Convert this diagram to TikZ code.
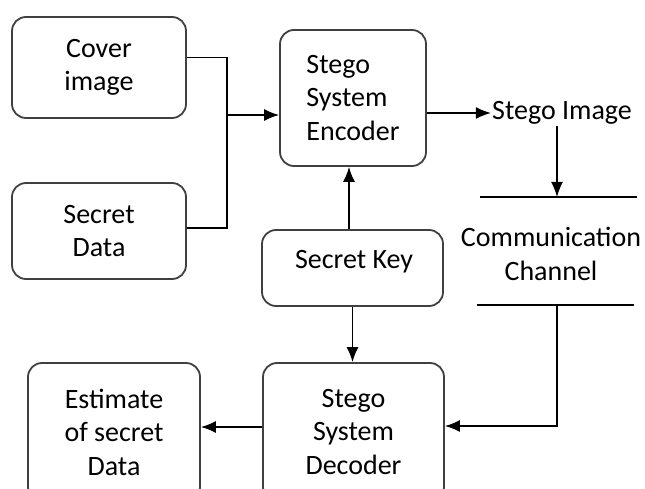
\documentclass[tikz,border=0pt]{standalone}
\usepackage{fontspec}
\setmainfont{Carlito}
\usepackage{tikz}
\usetikzlibrary{calc}
\usetikzlibrary{arrows.meta}
\usetikzlibrary{positioning}

\begin{document}
\begin{tikzpicture}[x=1pt, y=-1pt, box/.style={draw=black!75, line width=1.8pt, rounded corners=14pt, align=center, inner sep=0pt}]
    \tikzset{txt/.style={align=center, inner sep=1pt}}
    \tikzset{link/.style={line width=1.5pt}, tip/.style={-{Latex[length=15pt, width=12pt]}}}
    \fontsize{28}{33.5}\selectfont
    \useasboundingbox (0,0) rectangle (645,489);
    \clip (0,0) rectangle (645,489);
    %inputs
    \node[box, minimum width=174pt, minimum height=101pt] (cover) at (99,67.5) {Cover\\image};
    \node[box, minimum width=174pt, minimum height=96pt] (secret) at (99,231) {Secret\\Data};
    \node[box, minimum width=146pt, minimum height=136pt, align=left] (enc) at (353,98) {Stego\\System\\Encoder};
    \node[box, minimum width=181pt, minimum height=76pt] (key) at (352.5,268) {};
    \node[txt] (keytxt) at (354,262) {Secret Key};
    %outputs
    \node[box, minimum width=181pt, minimum height=138pt] (dec) at (353.5,432) {Stego\\System\\Decoder};
    \node[box, minimum width=172pt, minimum height=138pt] (est) at (114,432) {Estimate\\of secret\\Data};
    \node[txt] (img) at (562,113) {Stego Image};
    \node[txt] (chan) at (551,254) {Communication\\Channel};
    %channel lines
    \coordinate (chtop) at (557,197); \coordinate (chbot) at (557,305);
    \draw[link] (480,197) -- (637,197);
    \draw[link] (477,305) -- (634,305);
    \coordinate (jn) at (227,115);
    \draw[link] ([yshift=10pt]cover.east) -| (jn);
    \draw[link] ([yshift=3pt]secret.east) -| (jn);
    \draw[link, tip] (jn) -- (jn -| enc.west);
    \draw[link, tip] (enc.east |- img.west) -- (img.west);
    \draw[link, tip] (img.south -| chtop) -- (chtop);
    \draw[link, tip] (key.north -| 349,0) -- (enc.south -| 349,0);
    \draw[link, tip] (key.south) -- (key.south |- dec.north);
    \draw[link, tip] (chbot) |- ([yshift=6pt]dec.east);
    \draw[link, tip] ([yshift=5pt]dec.west) -- ([yshift=5pt]est.east);
\end{tikzpicture}
\end{document}
